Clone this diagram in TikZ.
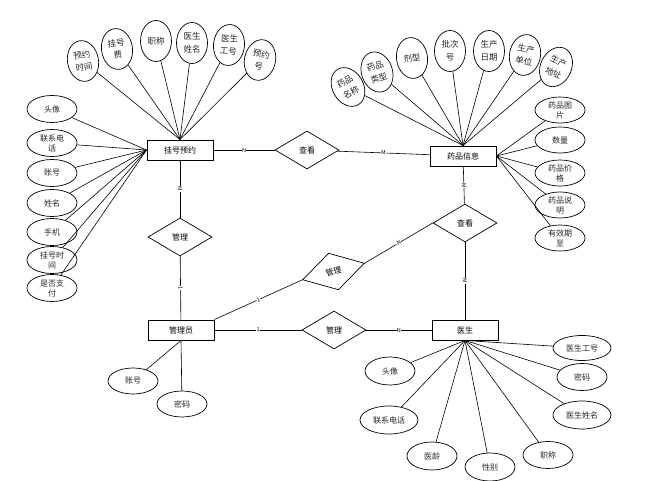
\documentclass[tikz,border=0pt]{standalone}
\usepackage{fontspec}
\setmainfont{Noto Sans CJK SC}
\usetikzlibrary{shapes.geometric}
\begin{document}
\begin{tikzpicture}[x=1pt,y=-1pt,
  every path/.style={line width=0.6pt},
  ent/.style={draw, line width=0.9pt, minimum width=66pt, minimum height=20pt, inner sep=0pt, font=\fontsize{8}{9}\selectfont},
  rel/.style={diamond, draw, line width=0.7pt, minimum width=64pt, minimum height=38pt, inner sep=0pt, font=\fontsize{8}{9}\selectfont},
  attr/.style={ellipse, draw, line width=0.7pt, inner sep=0pt, minimum width=50pt, minimum height=27pt, align=center, text=black!85, font=\fontsize{8}{10}\selectfont},
  vattr/.style={attr, minimum width=31pt, minimum height=41pt, font=\fontsize{8.5}{12.5}\selectfont},
  lbl/.style={font=\fontsize{5.5}{6}\selectfont, inner sep=0.4pt, fill=white}]
\useasboundingbox (0,0) rectangle (646,481);

% entities
\node[ent] (gh) at (180,150) {挂号预约};
\node[ent] (yp) at (463,156) {药品信息};
\node[ent] (gly) at (181,330) {管理员};
\node[ent] (ys) at (465,330) {医生};

% relationships
\node[rel] (ck1) at (307,150) {查看};
\node[rel] (gl1) at (180,237) {管理};
\node[rel] (ck2) at (465,223) {查看};
\node[rel, rotate=15] (gl3) at (333.5,271.5) {管理};
\node[rel] (gl2) at (334,330) {管理};

% relationship connectors
\draw (gh) -- node[lbl, sloped] {N} (ck1);
\draw (ck1) -- node[lbl, sloped] {M} (yp);
\draw (gh) -- node[lbl, sloped] {M} (gl1);
\draw (gl1) -- node[lbl, sloped] {1} (gly);
\draw (yp) -- node[lbl, sloped] {M} (ck2);
\draw (ck2) -- node[lbl, sloped] {M} (ys);
\draw (gly.north east) -- node[lbl, sloped] {1} (gl3.west);
\draw (gl3.east) -- node[lbl, sloped] {N} (ck2.west);
\draw (gly) -- node[lbl] {1} (gl2);
\draw (gl2) -- node[lbl] {N} (ys);

% attributes of 挂号预约 (left)
\node[attr] (a1) at (52,109) {头像};
\node[attr] (a2) at (52,143) {联系电\\话};
\node[attr] (a3) at (52,173) {账号};
\node[attr] (a4) at (52,203) {姓名};
\node[attr] (a5) at (52,232) {手机};
\node[attr] (a6) at (52,260) {挂号时\\间};
\node[attr] (a7) at (52,288) {是否支\\付};
\foreach \n in {a1,a2,a3,a4,a5,a6,a7} \draw (gh.west) -- (\n);

% attributes of 挂号预约 (top)
\node[vattr, rotate=10] (b1) at (83,61) {预约\\时间};
\node[vattr, rotate=8] (b2) at (117,49) {挂号\\费};
\node[vattr] (b3) at (156,41) {职称};
\node[vattr] (b4) at (192,43) {医生\\姓名};
\node[vattr, rotate=-5] (b5) at (229,45) {医生\\工号};
\node[vattr, rotate=-12] (b6) at (260,60) {预约\\号};
\foreach \n in {b1,b2,b3,b4,b5,b6} \draw (gh.north) -- (\n);

% attributes of 药品信息 (top)
\node[vattr, rotate=30] (c1) at (348,87) {药品\\名称};
\node[vattr, rotate=18] (c2) at (377,72) {药品\\类型};
\node[vattr, rotate=8] (c3) at (412,58) {剂型};
\node[vattr] (c4) at (450,51) {批次\\号};
\node[vattr] (c5) at (489,51) {生产\\日期};
\node[vattr, rotate=-10] (c6) at (525,55) {生产\\单位};
\node[vattr, rotate=-25] (c7) at (556,67) {生产\\地址};
\foreach \n in {c1,c2,c3,c4,c5,c6,c7} \draw (yp.north) -- (\n);

% attributes of 药品信息 (right)
\node[attr, minimum height=26pt] (d1) at (560,110) {药品图\\片};
\node[attr, minimum height=26pt] (d2) at (560,140) {数量};
\node[attr, minimum height=26pt] (d3) at (560,173) {药品价\\格};
\node[attr, minimum height=26pt] (d4) at (560,205) {药品说\\明};
\node[attr, minimum height=26pt] (d5) at (560,238) {有效期\\至};
\foreach \n in {d1,d2,d3,d4,d5} \draw (yp.east) -- (\n);

% attributes of 管理员
\node[attr, minimum height=26pt] (e1) at (133,381) {账号};
\node[attr, minimum height=26pt] (e2) at (182,404) {密码};
\foreach \n in {e1,e2} \draw (gly.south) -- (\n);

% attributes of 医生
\node[attr, minimum width=58pt, minimum height=25pt] (f1) at (582,348) {医生工号};
\node[attr] (f2) at (582,377) {密码};
\node[attr, minimum width=58pt, minimum height=28pt] (f3) at (582,415) {医生姓名};
\node[attr, minimum height=28pt] (f4) at (390,371) {头像};
\node[attr, minimum width=58pt, minimum height=28pt] (f5) at (389,420) {联系电话};
\node[attr, minimum height=28pt] (f6) at (432,456) {医龄};
\node[attr, minimum height=28pt] (f7) at (490,467) {性别};
\node[attr] (f8) at (548,455) {职称};
\foreach \n in {f1,f2,f3,f4,f5,f6,f7,f8} \draw (ys.south) -- (\n);
\end{tikzpicture}
\end{document}
